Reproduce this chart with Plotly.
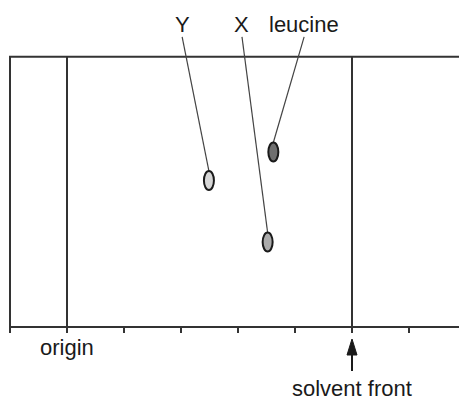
import plotly.graph_objects as go

# Data (distances in tick units along the chromatography paper)
tick_positions = [0, 1, 2, 3, 4, 5, 6, 7]
origin_pos = 1
solvent_front_pos = 6
paper_top = 4.74

spot_names = ["Y", "X", "leucine"]
spot_x = [3.49, 4.52, 4.62]
spot_y = [2.57, 1.49, 3.07]
spot_colors = ["#d6d6d6", "#ababab", "#6f6f6f"]
label_x = [3.02, 4.07, 5.16]
label_y = 5.30
leader_top = 5.09

# style
PX = 57.0  # pixels per unit
W, H = 459, 406
spot_hw = 5.0 / PX
spot_hh = 9.5 / PX
line_col = "#333333"
font = dict(family="Liberation Sans, Arial, sans-serif", size=22, color="#1a1a1a")

x_max = 50  # paper extends past right edge

fig = go.Figure()

# paper outline: top, bottom, left
fig.add_trace(go.Scatter(x=[x_max, tick_positions[0], tick_positions[0], x_max],
                         y=[paper_top, paper_top, 0, 0], mode="lines",
                         line=dict(color=line_col, width=2), hoverinfo="skip"))
# origin and solvent front lines
for xv in [origin_pos, solvent_front_pos]:
    fig.add_trace(go.Scatter(x=[xv, xv], y=[0, paper_top], mode="lines",
                             line=dict(color=line_col, width=2), hoverinfo="skip"))
# ticks
tx, ty = [], []
for t in tick_positions:
    tx += [t, t, None]
    ty += [0, -6.0 / PX, None]
fig.add_trace(go.Scatter(x=tx, y=ty, mode="lines", line=dict(color=line_col, width=2),
                         hoverinfo="skip"))

# leader lines
for i in range(len(spot_names)):
    fig.add_trace(go.Scatter(x=[label_x[i], spot_x[i]], y=[leader_top, spot_y[i] + spot_hh],
                             mode="lines", line=dict(color="#444444", width=1.2),
                             hoverinfo="skip"))

# spots (ellipses)
for i in range(len(spot_names)):
    fig.add_shape(type="circle", xref="x", yref="y",
                  x0=spot_x[i] - spot_hw, x1=spot_x[i] + spot_hw,
                  y0=spot_y[i] - spot_hh, y1=spot_y[i] + spot_hh,
                  fillcolor=spot_colors[i], line=dict(color="#1a1a1a", width=2))
    fig.add_annotation(x=label_x[i], y=label_y, text=spot_names[i], showarrow=False,
                       font=font, xanchor="center", yanchor="middle")

# origin label
fig.add_annotation(x=origin_pos, y=-20.0 / PX, text="origin", showarrow=False, font=font,
                   xanchor="center", yanchor="middle")
# solvent front label + arrow
fig.add_annotation(x=solvent_front_pos, y=-61.0 / PX, text="solvent front", showarrow=False,
                   font=font, xanchor="center", yanchor="middle")
tip_y = -12.0 / PX
base_y = -28.0 / PX
tail_y = -44.0 / PX
head_hw = 5.0 / PX
fig.add_trace(go.Scatter(x=[solvent_front_pos, solvent_front_pos], y=[tail_y, base_y + 2.0 / PX],
                         mode="lines", line=dict(color="#1a1a1a", width=2), hoverinfo="skip"))
fig.add_shape(type="path", xref="x", yref="y",
              path=(f"M {solvent_front_pos},{tip_y} "
                    f"L {solvent_front_pos - head_hw},{base_y} "
                    f"L {solvent_front_pos + head_hw},{base_y} Z"),
              fillcolor="#1a1a1a", line=dict(color="#1a1a1a", width=1))

fig.update_layout(
    width=W, height=H, margin=dict(l=0, r=0, t=0, b=0),
    paper_bgcolor="white", plot_bgcolor="white", showlegend=False,
    xaxis=dict(range=[-10.0 / PX, (W - 10.0) / PX], visible=False, fixedrange=True),
    yaxis=dict(range=[-(H - 327.0) / PX, 327.0 / PX], visible=False, fixedrange=True),
)

fig.write_html("out.html", config={"displayModeBar": False},
               post_script="document.body.style.margin='0';document.body.style.overflow='hidden';")
